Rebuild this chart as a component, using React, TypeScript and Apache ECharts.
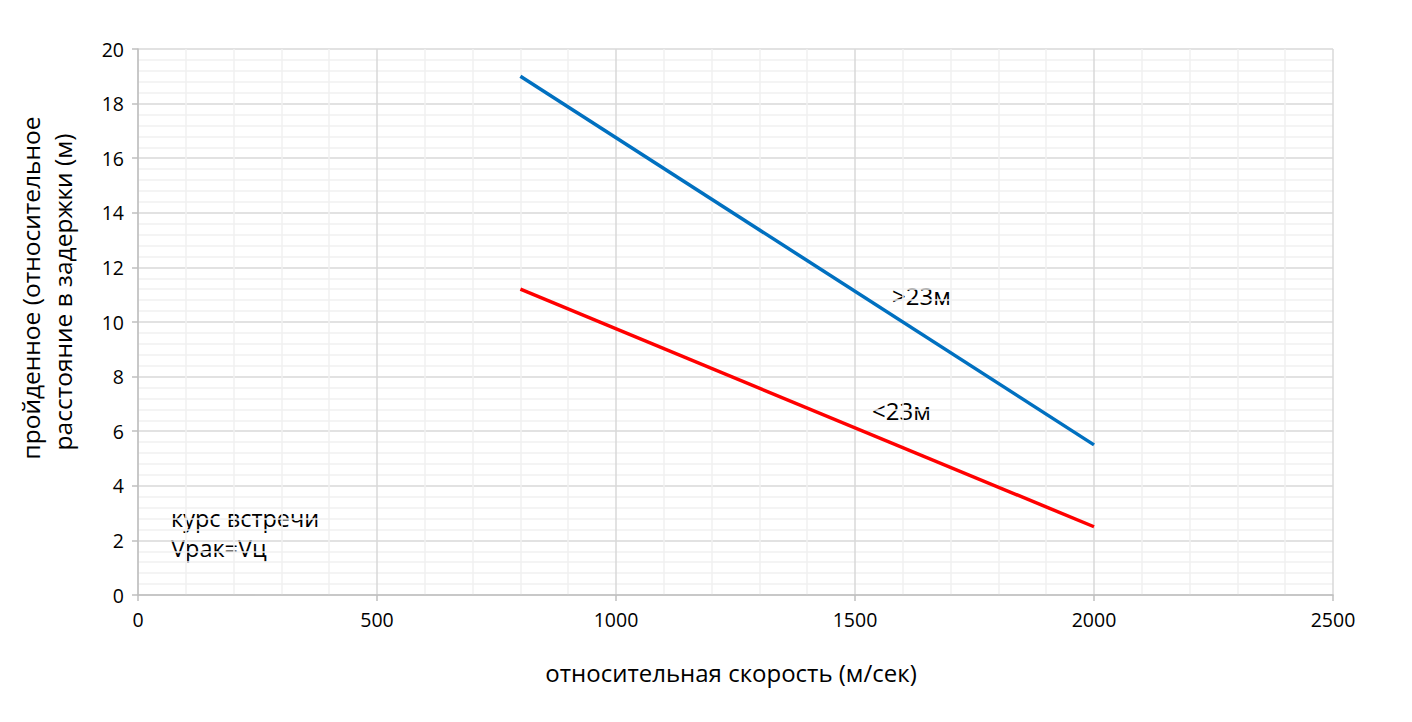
import React, { useEffect, useRef } from "react";
import * as echarts from "echarts";

const xBlue = [800, 2000];
const yBlue = [19, 5.5];
const xRed = [800, 2000];
const yRed = [11.2, 2.5];
const blueLabel = ">23м";
const redLabel = "<23м";
const noteLines = ["курс встречи", "Vрак=Vц"];
const xTitle = "относительная скорость (м/сек)";
const yTitleLines = ["пройденное (относительное", "расстояние в задержки (м)"];

const FONT = "Open Sans";

const txt = (text: string, x: number, y: number, size: number, extra: any = {}) => ({
  type: "text",
  x,
  y,
  ...extra,
  style: {
    text,
    fontSize: size,
    fontFamily: FONT,
    fill: "#000",
    textVerticalAlign: "middle",
    ...(extra.style || {}),
  },
});

export default function App() {
  const ref = useRef<HTMLDivElement>(null);
  useEffect(() => {
    const chart = echarts.init(ref.current!, null, { renderer: "svg" });
    const toPairs = (xs: number[], ys: number[]) => xs.map((x, i) => [x, ys[i]]);
    const axisCommon = {
      type: "value",
      axisLine: { show: true, lineStyle: { color: "#bfbfbf", width: 1.5 } },
      axisTick: { show: true, length: 6, lineStyle: { color: "#bfbfbf", width: 1.5 } },
      axisLabel: {
        color: "#000",
        fontSize: 19.5,
        fontFamily: FONT,
        margin: 14,
        formatter: (v: number) => String(v),
      },
      splitLine: { show: true, lineStyle: { color: "#d9d9d9", width: 1.5 } },
      minorTick: { show: false, splitNumber: 5 },
      minorSplitLine: { show: true, lineStyle: { color: "#f0f0f0", width: 1.5 } },
    };
    chart.setOption({
      animation: false,
      backgroundColor: "#ffffff",
      textStyle: { fontFamily: FONT },
      grid: { left: 138, right: 79, top: 49, bottom: 127 },
      xAxis: { ...axisCommon, min: 0, max: 2500, interval: 500 },
      yAxis: { ...axisCommon, min: 0, max: 20, interval: 2 },
      series: [
        {
          type: "line",
          data: toPairs(xBlue, yBlue),
          showSymbol: false,
          lineStyle: { color: "#0070C0", width: 3.5 },
        },
        {
          type: "line",
          data: toPairs(xRed, yRed),
          showSymbol: false,
          lineStyle: { color: "#FF0000", width: 3.5 },
        },
      ],
      graphic: [
        txt(blueLabel, 892, 295, 24),
        txt(redLabel, 872, 410, 24),
        txt(noteLines[0], 171, 518, 23.5),
        txt(noteLines[1], 171, 548, 23.5),
        txt(xTitle, 731, 672, 24, { style: { textAlign: "center" } }),
        txt(yTitleLines[0], 30, 288, 24.5, {
          rotation: Math.PI / 2,
          style: { textAlign: "center" },
        }),
        txt(yTitleLines[1], 62, 292, 24.5, {
          rotation: Math.PI / 2,
          style: { textAlign: "center" },
        }),
      ],
    });
    return () => chart.dispose();
  }, []);
  return (
    <div
      ref={ref}
      style={{ position: "fixed", left: 0, top: 0, width: 1412, height: 722 }}
    />
  );
}
